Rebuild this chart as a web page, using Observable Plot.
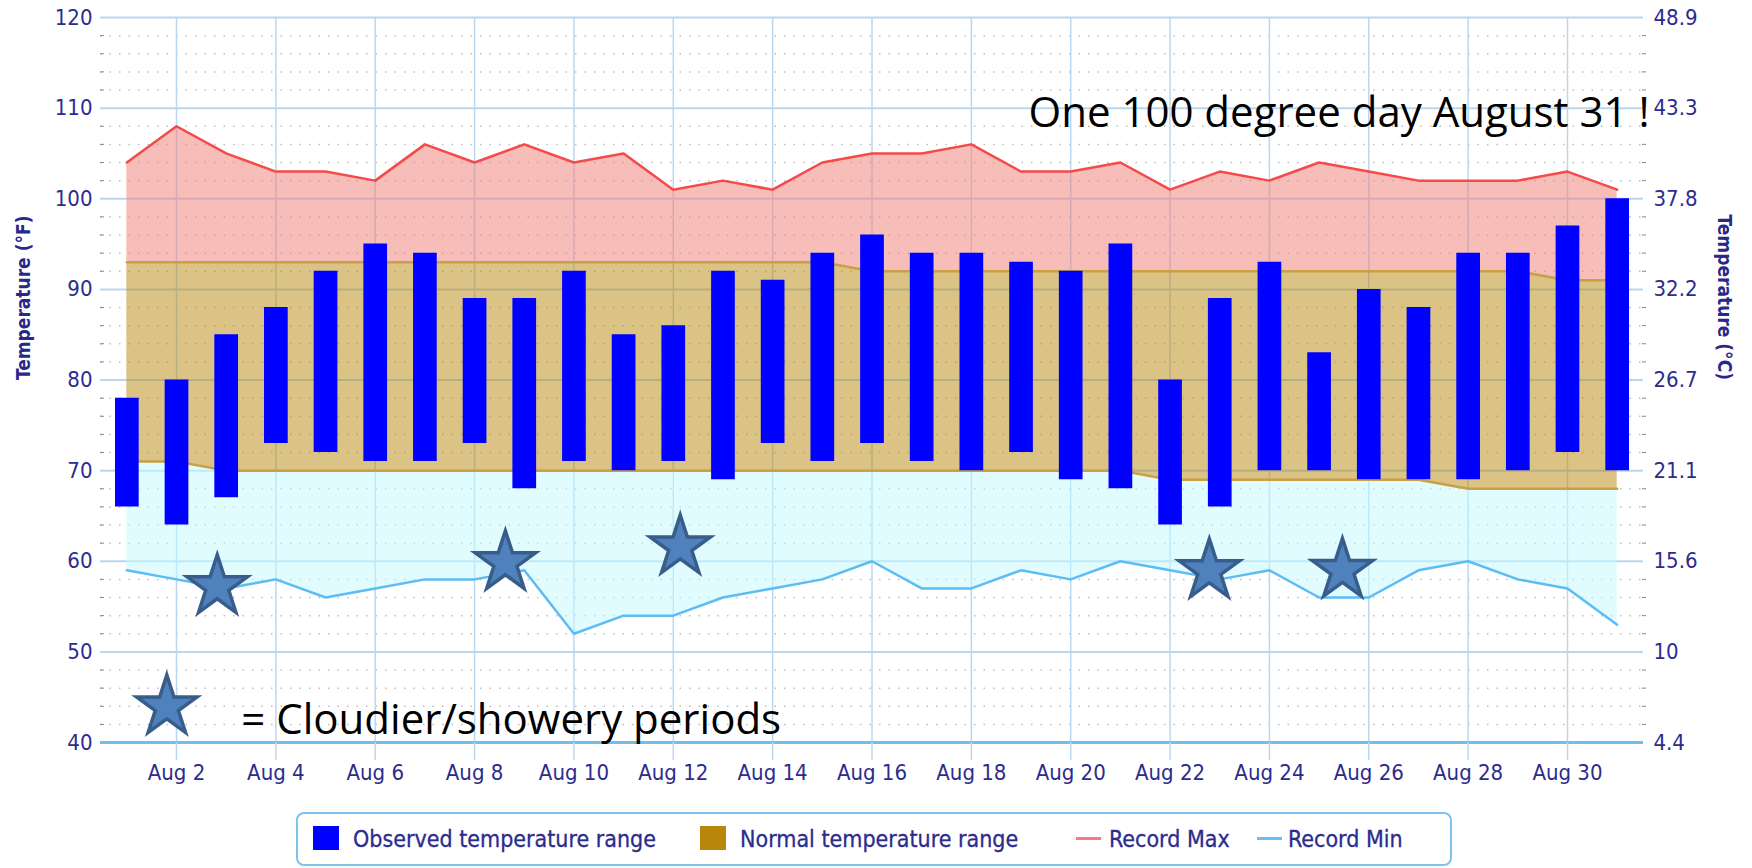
<!DOCTYPE html>
<html><head><meta charset="utf-8">
<script src="https://cdn.jsdelivr.net/npm/d3@7"></script>
<script src="https://cdn.jsdelivr.net/npm/@observablehq/plot@0.6"></script>
<style>
body{margin:0;background:#fff;}
#chart svg{display:block;}
#chart svg g[aria-label="text"] text{paint-order:stroke;}
#legend{position:relative;margin-left:296px;width:1152px;height:50px;border:2px solid #7cc4ec;border-radius:8px;
  font-family:"DejaVu Sans Condensed","DejaVu Sans",sans-serif;font-stretch:condensed;font-size:23px;color:#2c2c8e;
  -webkit-text-stroke:0.3px #2c2c8e;}
#legend .sw{position:absolute;}
#legend .tx{position:absolute;top:0;height:50px;line-height:50px;white-space:nowrap;}
</style></head><body>
<div id="chart"></div>
<div id="legend"></div>
<script>
// ---- data ----
const days = [1,2,3,4,5,6,7,8,9,10,11,12,13,14,15,16,17,18,19,20,21,22,23,24,25,26,27,28,29,30,31];
const obsHigh = [78,80,85,88,92,95,94,89,89,92,85,86,92,91,94,96,94,94,93,92,95,80,89,93,83,90,88,94,94,97,100];
const obsLow  = [66,64,67,73,72,71,71,73,68,71,70,71,69,73,71,73,71,70,72,69,68,64,66,70,70,69,69,69,70,72,70];
const normHigh = [93,93,93,93,93,93,93,93,93,93,93,93,93,93,93,92,92,92,92,92,92,92,92,92,92,92,92,92,92,91,91];
const normLow  = [71,71,70,70,70,70,70,70,70,70,70,70,70,70,70,70,70,70,70,70,70,69,69,69,69,69,69,68,68,68,68];
const recMax = [104,108,105,103,103,102,106,104,106,104,105,101,102,101,104,105,105,106,103,103,104,101,103,102,104,103,102,102,102,103,101];
const recMin = [59,58,57,58,56,57,58,58,59,52,54,54,56,57,58,60,57,57,59,58,60,59,58,59,56,56,59,60,58,57,53];
const starDays  = [2.82, 8.62, 12.14, 22.79, 25.47];
const starTemps = [57.2, 59.85, 61.6, 58.96, 59.0];
const xTickDays = [2,4,6,8,10,12,14,16,18,20,22,24,26,28,30];
const xTickLabels = ["Aug 2","Aug 4","Aug 6","Aug 8","Aug 10","Aug 12","Aug 14","Aug 16","Aug 18","Aug 20","Aug 22","Aug 24","Aug 26","Aug 28","Aug 30"];
const yTicksF = [40,50,60,70,80,90,100,110,120];
const yTicksC = ["4.4","10","15.6","21.1","26.7","32.2","37.8","43.3","48.9"];
const yMinorF = [42,44,46,48,52,54,56,58,62,64,66,68,72,74,76,78,82,84,86,88,92,94,96,98,102,104,106,108,112,114,116,118];
const legendLabels = ["Observed temperature range","Normal temperature range","Record Max","Record Min"];

const rows = days.map((d,i)=>({day:d, obsHigh:obsHigh[i], obsLow:obsLow[i], normHigh:normHigh[i], normLow:normLow[i], recMax:recMax[i], recMin:recMin[i]}));
const stars = starDays.map((d,i)=>({day:d, temp:starTemps[i]}));

const navy = "#2c2c8e";
const gridBlue = "#b9d8f0";
const tickFont = "'DejaVu Sans Condensed','DejaVu Sans',sans-serif";

const chart = Plot.plot({
  width: 1752, height: 812,
  marginLeft: 100, marginRight: 109, marginTop: 17, marginBottom: 70,
  style: {fontFamily: tickFont, background: "#fff", overflow: "visible"},
  x: {type: "linear", domain: [0.47, 31.53]},
  y: {domain: [40, 120]},
  marks: [
    // grid
    Plot.ruleY(yMinorF, {stroke: "#bdbdbd", strokeWidth: 1.5, strokeDasharray: "1.5,8"}),
    Plot.ruleX(xTickDays, {y1: 40, y2: 120, stroke: gridBlue, strokeWidth: 1.5}),
    Plot.ruleY(yTicksF.filter(v => v > 40), {stroke: gridBlue, strokeWidth: 2}),
    // areas
    Plot.areaY(rows, {x: "day", y1: "normHigh", y2: "recMax", fill: "#f08078", fillOpacity: 0.52}),
    Plot.areaY(rows, {x: "day", y1: "normLow", y2: "normHigh", fill: "#b8860b", fillOpacity: 0.5}),
    Plot.areaY(rows, {x: "day", y1: "recMin", y2: "normLow", fill: "#c2f9ff", fillOpacity: 0.5}),
    Plot.lineY(rows, {x: "day", y: "normHigh", stroke: "#c9a043", strokeWidth: 2.5}),
    Plot.lineY(rows, {x: "day", y: "normLow", stroke: "#c9a043", strokeWidth: 2.5}),
    Plot.lineY(rows, {x: "day", y: "recMax", stroke: "#f44a4a", strokeWidth: 2.5}),
    Plot.lineY(rows, {x: "day", y: "recMin", stroke: "#5cbcf4", strokeWidth: 2.5}),
    // bottom axis line
    Plot.ruleY([40], {stroke: "#74bdea", strokeWidth: 3}),
    // observed bars
    Plot.ruleX(rows, {x: "day", y1: "obsLow", y2: "obsHigh", stroke: "#0000ff", strokeWidth: 23.7}),
    // axes
    Plot.axisX(xTickDays, {anchor: "bottom", tickSize: 18, stroke: gridBlue, strokeWidth: 1.5, tickFormat: () => "", label: null}),
    Plot.axisX(xTickDays, {anchor: "bottom", tickSize: 0, tickPadding: 22, fontSize: 22, color: navy,
      tickFormat: d => xTickLabels[xTickDays.indexOf(d)], label: null}),
    Plot.axisY(yTicksF, {anchor: "left", tickSize: 0, tickPadding: 8, fontSize: 22, color: navy, label: null}),
    Plot.axisY(yMinorF, {anchor: "left", tickSize: 4, dx: 4, stroke: "#888", tickFormat: () => "", label: null}),
    Plot.axisY(yTicksF, {anchor: "right", tickSize: 0, tickPadding: 10, fontSize: 22, color: navy,
      tickFormat: d => yTicksC[yTicksF.indexOf(d)], label: null}),
    Plot.axisY(yMinorF, {anchor: "right", tickSize: 4, dx: -2, stroke: "#888", tickFormat: () => "", label: null}),
    Plot.text(["Temperature (°F)"], {frameAnchor: "left", dx: -77, rotate: -90, fontSize: 19, fontWeight: "bold", fill: "#28288a", fontFamily: tickFont}),
    Plot.text(["Temperature (°C)"], {frameAnchor: "right", dx: 81, rotate: 90, fontSize: 19, fontWeight: "bold", fill: "#28288a", fontFamily: tickFont}),
    // stars
    Plot.dot(stars, {x: "day", y: "temp", symbol: "star", r: 19, fill: "#4f81bd", stroke: "#385d8a", strokeWidth: 3.5}),
    Plot.dot([0], {x: 1.805, y: 43.94, symbol: "star", r: 19, fill: "#4f81bd", stroke: "#385d8a", strokeWidth: 3.5}),
    // annotations
    Plot.text(["One 100 degree day August 31 !"], {x: 19.15, y: 107.9, textAnchor: "start", lineAnchor: "bottom", fontSize: 42, fill: "#000", fontFamily: "'Open Sans',sans-serif"}),
    Plot.text(["= Cloudier/showery periods"], {x: 3.305, y: 40.96, textAnchor: "start", lineAnchor: "bottom", fontSize: 42, fill: "#000", fontFamily: "'Open Sans',sans-serif"})
  ]
});
document.getElementById("chart").appendChild(chart);
// slightly heavier tick label rendering
d3.select(chart).selectAll("g[aria-label='tick label'] text, g[aria-label='text'] text")
  .filter(function(){ return this.getAttribute("font-size") !== "42"; });
d3.select(chart).selectAll("g[aria-label='tick label']")
  .attr("stroke", navy).attr("stroke-width", 0.3);

// legend
const lg = document.getElementById("legend");
const items = [
  {sw: "square", color: "#0000ff", swLeft: 15, txLeft: 55},
  {sw: "square", color: "#b8860b", swLeft: 402, txLeft: 442},
  {sw: "line", color: "#f77", swLeft: 778, txLeft: 811},
  {sw: "line", color: "#66c2f0", swLeft: 959, txLeft: 990}
];
items.forEach((it, i) => {
  const s = document.createElement("div");
  s.className = "sw";
  s.style.left = it.swLeft + "px";
  s.style.background = it.color;
  if (it.sw === "square") { s.style.top = "12px"; s.style.width = "26px"; s.style.height = "24px"; }
  else { s.style.top = "23px"; s.style.width = "25px"; s.style.height = "3px"; }
  lg.appendChild(s);
  const t = document.createElement("div");
  t.className = "tx";
  t.style.left = it.txLeft + "px";
  t.textContent = legendLabels[i];
  lg.appendChild(t);
});
</script>
</body></html>
